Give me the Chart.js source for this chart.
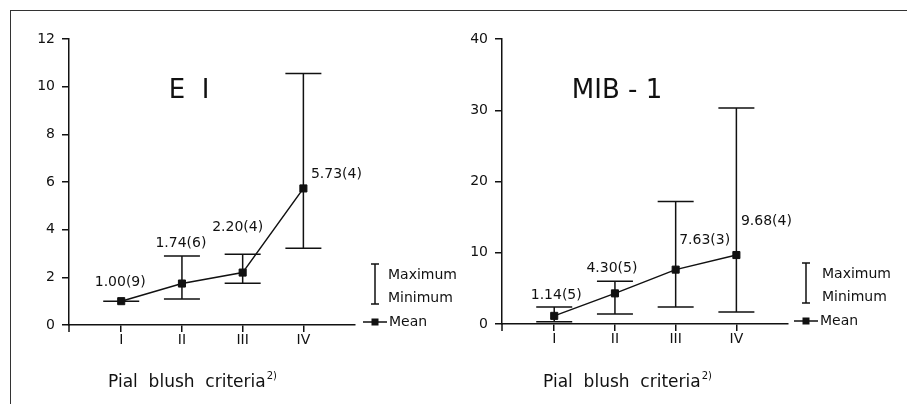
<!DOCTYPE html>
<html>
<head>
<meta charset="utf-8">
<script src="https://cdn.jsdelivr.net/npm/chart.js@4"></script>
<style>
html, body { margin: 0; padding: 0; background: #fff; }
body { width: 907px; height: 404px; position: relative; overflow: hidden; }
#frame { position: absolute; left: 10px; top: 10px; right: 0; bottom: 0; border-left: 1.5px solid #333; border-top: 1.5px solid #333; }
#left { position: absolute; left: 0; top: 0; }
#right { position: absolute; left: 450px; top: 0; }
</style>
</head>
<body>
<div id="frame"></div>
<canvas id="left" width="470" height="404"></canvas>
<canvas id="right" width="457" height="404"></canvas>
<script>
const categories = ['I', 'II', 'III', 'IV'];

const e1Mean = [1.00, 1.74, 2.20, 5.73];
const e1Count = [9, 6, 4, 4];
const e1Max = [1.0, 2.9, 2.97, 10.55];
const e1Min = [1.0, 1.09, 1.75, 3.22];
const e1Ticks = [0, 2, 4, 6, 8, 10, 12];

const mibMean = [1.14, 4.30, 7.63, 9.68];
const mibCount = [5, 5, 3, 4];
const mibMax = [2.4, 6.0, 17.2, 30.3];
const mibMin = [0.3, 1.4, 2.4, 1.7];
const mibTicks = [0, 10, 20, 30, 40];

const legendLabels = ['Maximum', 'Minimum', 'Mean'];
const axisTitle = 'Pial  blush  criteria';

const ink = '#111';
const font = '"DejaVu Sans", sans-serif';

// error bars, value labels, title, legend
const extras = {
    id: 'extras',
    beforeDatasetsDraw(chart, args, o) {
        const { ctx, scales: { x, y } } = chart;
        ctx.save();
        ctx.strokeStyle = ink;
        ctx.lineWidth = 1.5;
        o.max.forEach((hi, i) => {
            const px = x.getPixelForValue(i);
            const top = y.getPixelForValue(hi);
            const bot = y.getPixelForValue(o.min[i]);
            ctx.beginPath();
            ctx.moveTo(px, top); ctx.lineTo(px, bot);
            ctx.moveTo(px - 18, top); ctx.lineTo(px + 18, top);
            ctx.moveTo(px - 18, bot); ctx.lineTo(px + 18, bot);
            ctx.stroke();
        });
        ctx.restore();
    },
    afterDatasetsDraw(chart, args, o) {
        const { ctx, scales: { x, y } } = chart;
        ctx.save();
        ctx.fillStyle = ink;
        ctx.font = '14px ' + font;
        ctx.textAlign = 'center';
        ctx.textBaseline = 'middle';
        o.mean.forEach((m, i) => {
            const [dx, dy] = o.labelOffsets[i];
            ctx.fillText(m.toFixed(2) + '(' + o.count[i] + ')',
                x.getPixelForValue(i) + dx, y.getPixelForValue(m) + dy);
        });
        ctx.restore();
    },
    afterDraw(chart, args, o) {
        const { ctx, chartArea: a } = chart;
        ctx.save();
        ctx.fillStyle = ink;
        ctx.strokeStyle = ink;
        ctx.lineWidth = 1.5;

        // y axis runs a little below zero
        ctx.beginPath();
        ctx.moveTo(a.left, a.bottom); ctx.lineTo(a.left, a.bottom + 7);
        ctx.stroke();

        // big title
        ctx.font = '26px ' + font;
        ctx.textAlign = 'center';
        ctx.textBaseline = 'middle';
        ctx.fillText(o.title, a.left + o.titleDx, 91);

        // axis title with superscript
        ctx.font = '17px ' + font;
        const w1 = ctx.measureText(axisTitle).width;
        ctx.font = '10px ' + font;
        const w2 = ctx.measureText('2)').width;
        const sx = a.left + o.axisTitleDx - (w1 + w2) / 2;
        ctx.textAlign = 'left';
        ctx.font = '17px ' + font;
        ctx.fillText(axisTitle, sx, 383);
        ctx.font = '10px ' + font;
        ctx.fillText('2)', sx + w1 + 1, 376);

        // legend
        const bx = a.right + o.legendDx;
        const b = a.bottom;
        ctx.beginPath();
        ctx.moveTo(bx, b - 61); ctx.lineTo(bx, b - 21);
        ctx.moveTo(bx - 4, b - 61); ctx.lineTo(bx + 4, b - 61);
        ctx.moveTo(bx - 4, b - 21); ctx.lineTo(bx + 4, b - 21);
        ctx.moveTo(bx - 12, b - 3); ctx.lineTo(bx + 12, b - 3);
        ctx.stroke();
        ctx.fillRect(bx - 3.5, b - 6.5, 7, 7);
        ctx.font = '14px ' + font;
        ctx.fillText(legendLabels[0], bx + o.legendTextDx, b - 50);
        ctx.fillText(legendLabels[1], bx + o.legendTextDx, b - 27);
        ctx.fillText(legendLabels[2], bx + 14, b - 3);
        ctx.restore();
    }
};

function makeChart(id, cfg) {
    return new Chart(document.getElementById(id), {
        type: 'line',
        data: {
            datasets: [{
                data: cfg.mean.map((m, i) => ({ x: i, y: m })),
                borderColor: ink,
                borderWidth: 1.5,
                backgroundColor: ink,
                pointStyle: 'rect',
                pointRadius: 5,
                pointBorderWidth: 1,
                pointBackgroundColor: ink,
                pointBorderColor: ink,
                tension: 0
            }]
        },
        options: {
            responsive: false,
            animation: false,
            layout: { padding: { left: 0, top: 39, right: cfg.padRight, bottom: 0 } },
            plugins: {
                legend: { display: false },
                tooltip: { enabled: false },
                extras: cfg.extras
            },
            scales: {
                x: {
                    type: 'linear',
                    min: -0.86,
                    max: 3.85,
                    afterBuildTicks: axis => { axis.ticks = categories.map((c, i) => ({ value: i })); },
                    afterFit: s => { s.height = cfg.xHeight; },
                    ticks: {
                        callback: v => categories[v],
                        color: ink,
                        font: { family: font, size: 14 },
                        padding: 0,
                        maxRotation: 0
                    },
                    grid: { display: true, drawOnChartArea: false, drawTicks: true, tickLength: 7, color: ink, lineWidth: 1.5 },
                    border: { display: true, color: ink, width: 1.5 }
                },
                y: {
                    min: 0,
                    max: cfg.ticks[cfg.ticks.length - 1],
                    afterBuildTicks: axis => { axis.ticks = cfg.ticks.map(v => ({ value: v })); },
                    afterFit: s => { s.width = cfg.yWidth; },
                    ticks: {
                        color: ink,
                        font: { family: font, size: 14 },
                        padding: 7
                    },
                    grid: { display: true, drawOnChartArea: false, drawTicks: true, tickLength: 7, color: ink, lineWidth: 1.5 },
                    border: { display: true, color: ink, width: 1.5 }
                }
            }
        },
        plugins: [extras]
    });
}

makeChart('left', {
    mean: e1Mean,
    ticks: e1Ticks,
    padRight: 470 - 355,
    xHeight: 404 - 325,
    yWidth: 69,
    extras: {
        mean: e1Mean, count: e1Count, max: e1Max, min: e1Min,
        labelOffsets: [[-1, -19], [-1, -40], [-5, -45], [33, -14]],
        title: 'E  I', titleDx: 120, axisTitleDx: 123,
        legendDx: 20, legendTextDx: 13
    }
});

makeChart('right', {
    mean: mibMean,
    ticks: mibTicks,
    padRight: 457 - 338,
    xHeight: 404 - 324,
    yWidth: 52,
    extras: {
        mean: mibMean, count: mibCount, max: mibMax, min: mibMin,
        labelOffsets: [[2, -21], [-3, -25], [29, -29], [30, -34]],
        title: 'MIB - 1', titleDx: 115, axisTitleDx: 125,
        legendDx: 18, legendTextDx: 16
    }
});
</script>
</body>
</html>
